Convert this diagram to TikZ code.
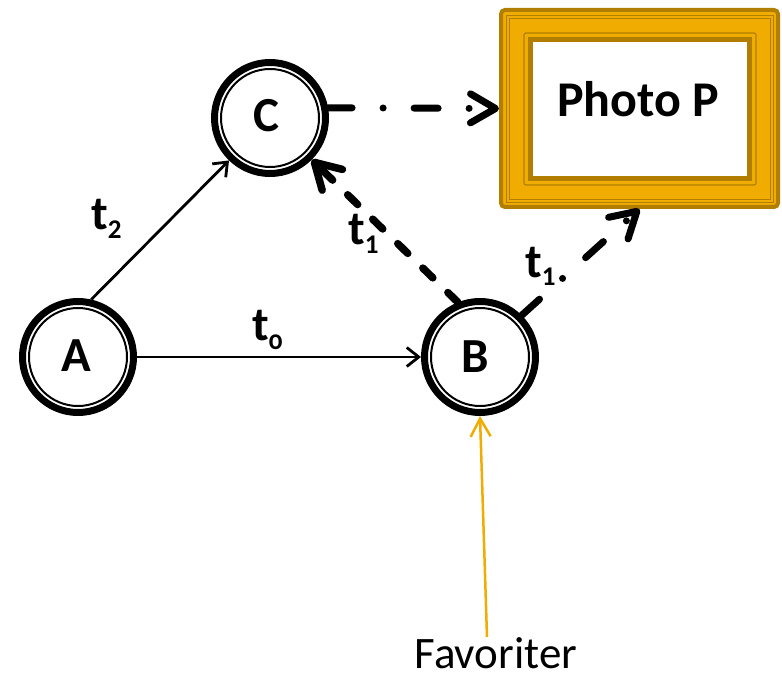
\documentclass[tikz,border=0pt]{standalone}
\usepackage{fontspec}
\setmainfont{Carlito}
\usetikzlibrary{arrows.meta}
\definecolor{gold}{HTML}{F0AC00}
\definecolor{darkgold}{HTML}{B27E00}
\newcommand\tsub[1]{\raisebox{-9pt}{\fontsize{27}{28}\selectfont #1}}
\begin{document}
\begin{tikzpicture}[x=1pt,y=-1pt,
  statenode/.style={circle,draw,line width=7pt,minimum size=111pt,inner sep=0pt},
  lbl/.style={font=\fontsize{49}{51}\selectfont\bfseries,anchor=base,inner sep=0pt},
  tlbl/.style={font=\fontsize{48}{50}\selectfont\bfseries,anchor=base west,inner sep=0pt},
  thinarrow/.style={line width=2.8pt,-{Straight Barb[length=12pt,width=19pt]}},
  dasharrow/.style={line width=7.5pt,dash pattern=on 14pt off 21pt,line cap=round,
    -{Straight Barb[length=25pt,width=29pt,round]}},
  dotarrow/.style={line width=7pt,dash pattern=on 24pt off 31pt on 0pt off 31pt,line cap=round,
    -{Straight Barb[length=25pt,width=29pt,round]}},
  favarrow/.style={draw=gold,line width=2.5pt,-{Straight Barb[length=18pt,width=20pt]}}
]
\useasboundingbox (0,0) rectangle (782,679);
% photo frame
\node[draw=darkgold,fill=gold,line width=4pt,rounded corners=4pt,
  minimum width=277pt,minimum height=197pt,inner sep=0pt] (P) at (639.5,108.5) {};
\draw[darkgold,line width=0.8pt] (506,15) rectangle (773,202);
\draw[darkgold,line width=0.8pt] (509,18) rectangle (770,199);
\draw[darkgold,line width=1.2pt,rounded corners=2pt] (524,33) rectangle (756,185);
\draw[darkgold,fill=white,line width=5pt] (530.5,39.5) rectangle (749.5,178.5);
\node[lbl,font=\fontsize{50}{52}\selectfont\bfseries] (Pl) at (638,117) {Photo P};
% states
\node[statenode] (A) at (78,357) {};
\node[statenode] (B) at (480,357) {};
\node[statenode] (C) at (270,118) {};
\foreach \n in {A,B,C} \draw[line width=2pt] (\n.center) circle[radius=49pt];
\node[lbl] (Al) at (76,371) {A};
\node[lbl] (Bl) at (475,372) {B};
\node[lbl] (Cl) at (266,132) {C};
% connectors
\draw[thinarrow] (A.77) -- (C.226);
\draw[thinarrow] (A.east) -- (B.west);
\draw[dasharrow] (B.112) -- (C.315);
\draw[dotarrow] (C.10) -- (P.west);
\draw[dotarrow] (B.45) -- (P.south);
\coordinate (fav) at (487,637);
\draw[favarrow] (fav) -- (B.south);
% labels
\node[tlbl] (t2) at (91,230) {t\tsub{2}};
\node[tlbl] (t0) at (252,340) {t\tsub{{\addfontfeatures{Numbers=OldStyle}0}}};
\node[tlbl] (t1a) at (348,245) {t\tsub{1}};
\node[tlbl] (t1b) at (525,277) {t\tsub{1}};
\node[font=\fontsize{45}{47}\selectfont,anchor=base,inner sep=0pt] (fl) at (496,668) {Favoriter};
\end{tikzpicture}
\end{document}
